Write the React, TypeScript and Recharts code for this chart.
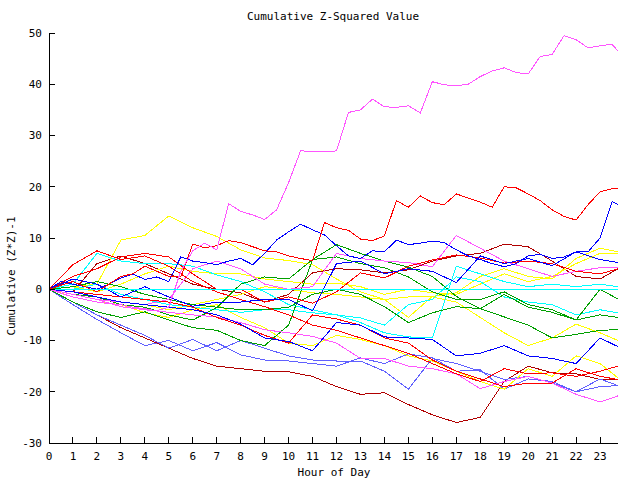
import { LineChart, Line, XAxis, YAxis } from 'recharts';

// x grids (hours of day); the last sample sits at 23:45
const HOURS = [0, 1, 2, 3, 4, 5, 6, 7, 8, 9, 10, 11, 12, 13, 14, 15, 16, 17, 18, 19, 20, 21, 22, 23, 23.75];
const HALF_HOURS = [
  0, 0.5, 1, 1.5, 2, 2.5, 3, 3.5, 4, 4.5, 5, 5.5, 6, 6.5, 7, 7.5, 8, 8.5, 9, 9.5,
  10, 10.5, 11, 11.5, 12, 12.5, 13, 13.5, 14, 14.5, 15, 15.5, 16, 16.5, 17, 17.5, 18, 18.5, 19, 19.5,
  20, 20.5, 21, 21.5, 22, 22.5, 23, 23.5, 23.75,
];
const X_TICKS = [0, 1, 2, 3, 4, 5, 6, 7, 8, 9, 10, 11, 12, 13, 14, 15, 16, 17, 18, 19, 20, 21, 22, 23];
const Y_TICKS = [-30, -20, -10, 0, 10, 20, 30, 40, 50];

// half-hour series
const magentaTop = [
  0, -0.8, -1.5, -2, -2.5, -2.8, -3, -3.5, -3.8, -4.2,
  -3.5, 3.5, 7.5, 9, 7.7, 16.7, 15.2, 14.5, 13.6, 15.5,
  20.8, 27, 26.9, 26.8, 27, 34.5, 35, 37.1, 35.6, 35.5,
  35.8, 34.4, 40.5, 39.9, 39.7, 40, 41.5, 42.6, 43.2, 42.3,
  42, 45.4, 45.8, 49.5, 48.7, 47.1, 47.5, 47.8, 46.5,
];
const redHigh = [
  0, 0.8, 1.5, 0.5, -0.5, 1, 2.5, 3, 4.5, 3.5,
  2.5, 2.4, 8.8, 8.1, 8.5, 9.5, 9.1, 8.3, 7.5, 7.3,
  6.5, 6, 5.6, 13, 12, 11.5, 9.8, 9.5, 10.4, 17.3,
  16, 18.2, 16.9, 16.5, 18.6, 17.8, 17, 16, 20, 19.8,
  18.6, 17.3, 15.5, 14.2, 13.5, 16.5, 19, 19.6, 19.6,
];
const blueHigh = [
  0, 1.5, 1, 0.5, 0, 1, 2.2, 3, 1.9, 2.4,
  1.5, 6.3, 5.5, 5.2, 4.8, 5.5, 6, 4.8, 7, 9.6,
  11.2, 12.7, 11.6, 10.6, 8.5, 6.5, 6, 7.5, 7.3, 9.6,
  8.7, 9, 9.4, 9.1, 7.7, 6.5, 5.8, 5, 4.4, 5,
  6.5, 6.8, 6, 6.3, 7.3, 7.3, 10, 17.1, 16.5,
];

// hourly series
const cyanFlat = [0, 0, 0, 0, 0, 0, 0, 0, 0, 0, 0, 0, 0, 0, 0, 0, 0, 0, 0, 0, 0, 0, 0, 0, 0];
const cyanA = [0, 0, 1, -1, -2, -3, -3.5, -4, -4.5, -4, -4, -4.6, -5, -6.5, -8.5, -9.3, -9.5, 4.5, 3, 1.5, 0.5, 1, 0.5, 1, 0.5];
const cyanB = [0, 1, 7, 5.5, 5, 5, 4.5, 2.8, 1.5, -0.5, -3, -4, -5, -5.6, -7, -3, -2, 2.4, 1.5, -1.5, -2.5, -3, -5, -4, -4.6];
const yellowA = [0, 0.5, 1, 9.6, 10.5, 14.3, 12, 10.3, 7.7, 6.1, 5.6, 4.8, 2, -0.5, -2, -5.5, -1.4, -0.7, 2.5, 4, 2.5, 2, 6, 8, 7.3];
const yellowB = [0, -1, -1.5, -2.5, -3, -4, -3, -2, -1, 0.5, 0, -0.7, -1, -1.5, -2, -1.5, -1.5, -2.5, -5.5, -8.5, -11, -9.5, -6.8, -8.5, -10];
const yellowC = [0, -1.5, -2.5, -3, -4.6, -5.5, -4, -3, -5.5, -7.5, -10.5, -11, -9, -9.8, -11, -13, -14, -16, -18, -19.5, -15.5, -17, -13, -14.5, -17.3];
const yellowD = [0, 0.5, -0.5, 1, 3, 4.5, 3.5, 3, 3, 2, 1.5, 1, 1.2, 0.5, -1, 0, -0.7, -1, 1, 3, 1.5, 2.5, 5, 7, 7];
const greenA = [0, -2.5, -4.4, -5.5, -4.4, -6, -7.5, -8, -10, -11, -7, 5.8, 8.7, 7, 5.5, 4.3, 2.5, -1.4, -3.8, -5.4, -7, -9.5, -8.8, -8, -7.9];
const greenB = [0, -1, -1.5, -3, -3.5, -5, -6, -3.6, 1, 2.4, 2, 5.8, 6.3, 5, 4.2, 2.4, -0.5, -2, -2, -0.5, -3, -4, -6, 0, -1.9];
const greenC = [0, 0.5, 1.5, 0.5, -1, -2, -3, -3.5, -4, -4, -3.5, -1, 0, -1, -3.4, -6.5, -4.6, -3.4, -3.8, -1, -3.5, -4.5, -6, -5, -5.5];
const redA = [0, 2.5, 4, 6.3, 7, 6.3, 3, 0, 0, -2.5, -1.5, -2.7, -0.5, 3.2, 2.2, 4.5, 5.7, 6.7, 6.1, 5.1, 5.5, 5, 3.5, 3, 4];
const redB = [0, -0.5, -1, -1.5, -2, -2.5, -3.5, -5.5, -7, -9, -10.5, -5, -5.8, -7, -9.5, -10.5, -13.8, -16, -17.5, -19, -18.3, -18.3, -15.5, -17, -17.6];
const redC = [0, 4.8, 7.5, 5.8, 6.5, 4.5, 1.5, -0.5, -2, -3.4, -5, -7, -8, -9.5, -11, -12.5, -14.5, -16.5, -18, -15.5, -16.5, -16.3, -17, -16, -15];
const darkRedA = [0, -2.5, -5, -7.5, -9.5, -11.5, -13.5, -15, -15.5, -16, -16.1, -17, -19, -20.5, -20.2, -22.5, -24.5, -26, -25, -18, -15, -16.3, -16.5, -17.6, -17.6];
const darkRedB = [0, -0.5, 5, 6.5, 5, 3, 1, 0, -0.7, -2.5, -1, 3.2, 4, 3.8, 3.2, 3.8, 5.5, 6.5, 7, 8.8, 8.3, 5.5, 2.5, 2, 4];
const blueA = [0, 2, 1, -1.5, 0.5, -1.5, -3.3, -2.5, -2.5, -2, -2, -4.2, 5, 5.5, 3, 4, 3.5, 1.3, 6.5, 5, 6, 4.6, 7.3, 5.8, 5.2];
const blueB = [0, -0.5, -1.5, -2.5, -3, -3.5, -4, -5, -6.8, -9.5, -10.2, -12, -6.5, -7, -9.3, -9.5, -9.8, -13, -12.5, -11, -13, -13.5, -14.5, -9.5, -11.2];
const slateA = [0, -3, -5.9, -8.5, -11, -10, -12, -10.4, -12.8, -13.8, -14, -14.5, -15, -13.4, -14.5, -12.6, -13.4, -16, -15.7, -19.5, -17.5, -18, -20, -17.5, -18.8];
const slateB = [0, -2.5, -5, -7, -9, -11.5, -9.8, -12, -10, -11.5, -13, -13.8, -14, -14, -16, -19.5, -13.5, -14.5, -16, -17.6, -17, -18.3, -20, -19, -18.8];
const magentaA = [0, -1, -2, -2.5, -3, -2, 4, 5.5, 4, 1, 0, 0.5, 7, 6, 5.5, 5.2, 4.4, 10.5, 8, 5.5, 4, 2.5, 3.5, 4.2, 4.3];
const magentaB = [0, -1, -2, -3.4, -4, -4.5, -5, -5.4, -6.5, -7.9, -8.5, -9.2, -10.5, -13.5, -13.5, -15, -15.5, -16.5, -19.4, -18, -17, -18.3, -20.5, -22, -20.8];

const RED = '#ff0000';
const DARK_RED = '#b00000';
const BLUE = '#0000ff';
const SLATE = '#6060ff';
const GREEN = '#00a000';
const YELLOW = '#ffff00';
const CYAN = '#00ffff';
const MAGENTA = '#ff55ff';

const SERIES = [
  { key: 'darkRedA', color: DARK_RED, grid: HOURS, values: darkRedA },
  { key: 'darkRedB', color: DARK_RED, grid: HOURS, values: darkRedB },
  { key: 'slateA', color: SLATE, grid: HOURS, values: slateA },
  { key: 'slateB', color: SLATE, grid: HOURS, values: slateB },
  { key: 'yellowA', color: YELLOW, grid: HOURS, values: yellowA },
  { key: 'yellowB', color: YELLOW, grid: HOURS, values: yellowB },
  { key: 'yellowC', color: YELLOW, grid: HOURS, values: yellowC },
  { key: 'yellowD', color: YELLOW, grid: HOURS, values: yellowD },
  { key: 'cyanA', color: CYAN, grid: HOURS, values: cyanA },
  { key: 'cyanB', color: CYAN, grid: HOURS, values: cyanB },
  { key: 'greenA', color: GREEN, grid: HOURS, values: greenA },
  { key: 'greenB', color: GREEN, grid: HOURS, values: greenB },
  { key: 'greenC', color: GREEN, grid: HOURS, values: greenC },
  { key: 'magentaA', color: MAGENTA, grid: HOURS, values: magentaA },
  { key: 'magentaB', color: MAGENTA, grid: HOURS, values: magentaB },
  { key: 'redA', color: RED, grid: HOURS, values: redA },
  { key: 'redB', color: RED, grid: HOURS, values: redB },
  { key: 'redC', color: RED, grid: HOURS, values: redC },
  { key: 'blueA', color: BLUE, grid: HOURS, values: blueA },
  { key: 'blueB', color: BLUE, grid: HOURS, values: blueB },
  { key: 'blueHigh', color: BLUE, grid: HALF_HOURS, values: blueHigh },
  { key: 'redHigh', color: RED, grid: HALF_HOURS, values: redHigh },
  { key: 'magentaTop', color: MAGENTA, grid: HALF_HOURS, values: magentaTop },
  { key: 'cyanFlat', color: CYAN, grid: HOURS, values: cyanFlat },
];

const FONT = 'DejaVu Sans Mono, monospace';
const tickStyle = { fontSize: 11, fill: '#000', fontFamily: FONT };

export default function App() {
  return (
    <div style={{ position: 'absolute', left: 0, top: 0, width: 640, height: 480, background: '#fff' }}>
      <LineChart
        width={640}
        height={480}
        margin={{ top: 33, right: 22, bottom: 0, left: 0 }}
        style={{ shapeRendering: 'crispEdges' }}
      >
        <XAxis
          xAxisId="bottom"
          dataKey="h"
          type="number"
          domain={[0, 23.75]}
          ticks={X_TICKS}
          allowDataOverflow
          height={37}
          tickSize={-6}
          tickMargin={15}
          stroke="#000"
          tick={tickStyle}
        />
        <XAxis
          xAxisId="top"
          orientation="top"
          dataKey="h"
          type="number"
          domain={[0, 23.75]}
          ticks={X_TICKS}
          allowDataOverflow
          height={0}
          tickSize={-6}
          tick={false}
          stroke="#000"
        />
        <YAxis
          yAxisId="left"
          type="number"
          domain={[-30, 50]}
          ticks={Y_TICKS}
          allowDataOverflow
          width={49}
          tickSize={-6}
          tickMargin={13}
          stroke="#000"
          tick={tickStyle}
        />
        <YAxis
          yAxisId="right"
          orientation="right"
          type="number"
          domain={[-30, 50]}
          ticks={Y_TICKS}
          allowDataOverflow
          width={0}
          tickSize={-6}
          tick={false}
          stroke="#000"
        />
        {SERIES.map((s) => (
          <Line
            key={s.key}
            xAxisId="bottom"
            yAxisId="left"
            data={s.grid.map((h, i) => ({ h, v: s.values[i] }))}
            dataKey="v"
            type="linear"
            stroke={s.color}
            strokeWidth={1}
            dot={false}
            activeDot={false}
            isAnimationActive={false}
          />
        ))}
      </LineChart>
      <svg width={640} height={480} style={{ position: 'absolute', left: 0, top: 0, pointerEvents: 'none' }}>
        <text x={333} y={20} textAnchor="middle" fontSize={11} fontFamily={FONT} fill="#000">
          Cumulative Z-Squared Value
        </text>
        <text x={334} y={476} textAnchor="middle" fontSize={11} fontFamily={FONT} fill="#000">
          Hour of Day
        </text>
        <text
          x={0}
          y={0}
          transform="translate(15 276) rotate(-90)"
          textAnchor="middle"
          fontSize={11}
          fontFamily={FONT}
          fill="#000"
        >
          Cumulative (Z*Z)-1
        </text>
      </svg>
    </div>
  );
}
